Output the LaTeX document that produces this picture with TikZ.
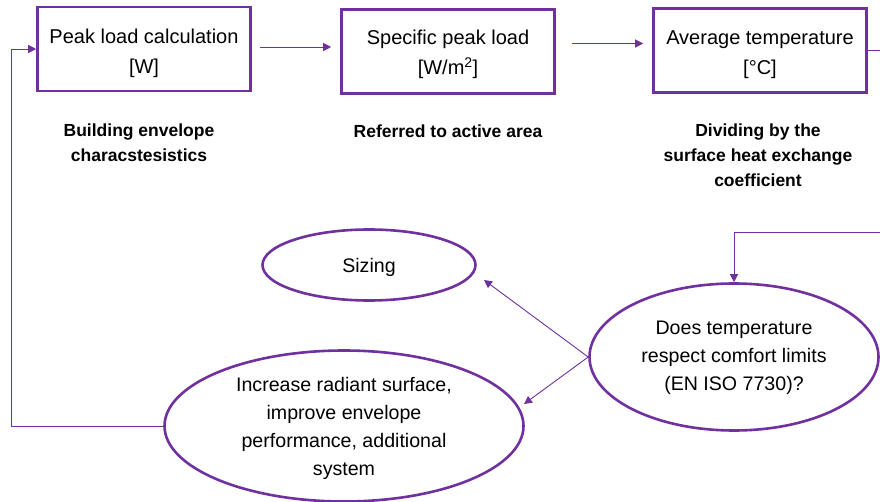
\documentclass[tikz,border=0pt]{standalone}
\usepackage{fontspec}
\setmainfont{Liberation Sans}
\usetikzlibrary{shapes.geometric,arrows.meta,calc}
\definecolor{pur}{HTML}{7030A0}
\newcommand\mlines[2]{\smash{\lower#1\hbox{\begin{tabular}{@{}c@{}}#2\end{tabular}}}}
\begin{document}
\begin{tikzpicture}[x=1pt,y=-1pt,
  box/.style={draw=pur,line width=2.6pt,minimum width=213pt,minimum height=84pt,inner sep=0pt,font=\fontsize{20}{30}\selectfont},
  lab/.style={align=center,font=\bfseries\fontsize{17.5}{25}\selectfont},
  ell/.style={ellipse,draw=pur,line width=2.6pt,inner sep=0pt,font=\fontsize{19.6}{28}\selectfont},
  conn/.style={draw=pur,line width=0.9pt,-{Triangle[length=8pt,width=8pt]}},
  ]
\clip (0,0) rectangle (880,502);
\fill[white] (0,0) rectangle (880,502);

\node[box] (b1) at (144,49) {\mlines{9pt}{Peak load calculation\\ {[W]}}};
\node[box] (b2) at (448,51.5) {\mlines{7.5pt}{Specific peak load\\ {[W/m\textsuperscript{2}]}}};
\node[box] (b3) at (760,50.5) {\mlines{8pt}{Average temperature\\ {[°C]}}};

\node[lab] (l1) at (139,142.5) {Building envelope\\ characstesistics};
\node[lab] (l2) at (448,131) {Referred to active area};
\node[lab] (l3) at (758,155) {Dividing by the\\ surface heat exchange\\ coefficient};

\node[ell,minimum width=213pt,minimum height=71pt] (sizing) at (369,265) {\mlines{7pt}{Sizing}};
\node[ell,minimum width=289pt,minimum height=147pt] (comfort) at (734,357) {\mlines{5pt}{Does temperature\\ respect comfort limits\\ (EN ISO 7730)?}};
\node[ell,minimum width=359pt,minimum height=151pt] (increase) at (344,426) {\mlines{7.5pt}{Increase radiant surface,\\ improve envelope\\ performance, additional\\ system}};

\draw[conn] ($(b1.east)+(8,-2)$) -- ($(b1.east -| b2.west)+(-9,-2)$);
\draw[conn] ($(b2.east)+(16,-8)$) -- ($(b2.east -| b3.west)+(-9,-8)$);
\draw[conn] (b3.east) -- ($(b3.east)+(40,0)$) |- ($(comfort.north)+(0,-50)$) -- (comfort.north);
\draw[conn] (comfort.west) -- ($(sizing.center)+(115,15)$);
\draw[conn] (comfort.west) -- ($(increase.center)+(180,-22)$);
\draw[conn] (increase.west) -| ($(b1.west)+(-25,0)$) -- (b1.west);
\end{tikzpicture}
\end{document}
